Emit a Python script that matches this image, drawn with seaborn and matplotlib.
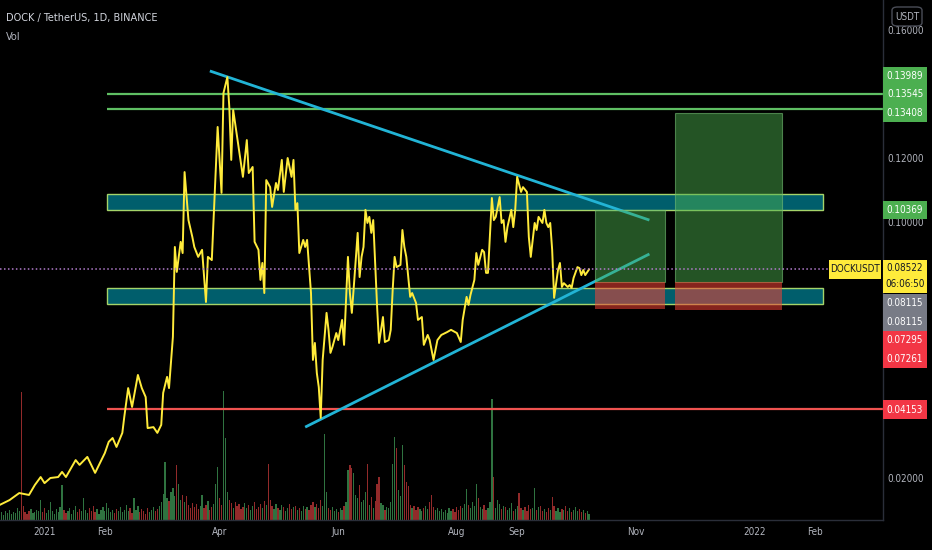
import numpy as np
import pandas as pd
import matplotlib
matplotlib.use("Agg")
import matplotlib.pyplot as plt
import matplotlib.dates as mdates
import matplotlib.font_manager as fm
from matplotlib.patches import Rectangle, FancyBboxPatch
import seaborn as sns

# ---------------- data ----------------
base_date = "2021-01-01"
# days after 2021-01-01 and the daily close at that day
price_day = [-23, -18, -13, -8, -5, -2, 0, 3, 7, 9, 11, 16, 18, 22, 26, 28, 31, 33, 35, 37,
             40, 41, 43, 45, 48, 50, 52, 53, 56, 58, 60, 61, 63, 64, 66, 67, 68, 70, 71, 72,
             74, 76, 77, 79, 81, 83, 84, 86, 89, 91, 92, 94, 95, 96, 97, 99, 102, 104, 105, 107,
             108, 110, 111, 112, 113, 114, 116, 117, 119, 120, 122, 123, 125, 127, 128, 129, 130, 131, 133, 134,
             135, 136, 137, 138, 139, 140, 141, 142, 143, 145, 146, 147, 148, 150, 151, 153, 154, 156, 157, 158,
             159, 161, 162, 163, 164, 165, 166, 167, 168, 169, 171, 172, 174, 175, 177, 178, 179, 180, 181, 183,
             184, 185, 186, 188, 189, 191, 192, 194, 195, 197, 198, 200, 202, 204, 207, 209, 212, 214, 215, 217,
             218, 219, 221, 222, 223, 225, 226, 227, 228, 230, 231, 232, 234, 235, 236, 237, 238, 240, 241, 242,
             243, 245, 246, 248, 249, 250, 251, 252, 253, 254, 256, 257, 258, 259, 260, 261, 262, 264, 265, 266,
             267, 269, 270, 271, 272, 274, 275, 276, 277, 278, 280]
price_close = [0.0116, 0.0131, 0.0153, 0.0147, 0.0178, 0.0203, 0.0184, 0.0200, 0.0203, 0.0219,
               0.0203, 0.0256, 0.0241, 0.0266, 0.0216, 0.0241, 0.0278, 0.0313, 0.0325, 0.0297,
               0.0341, 0.0391, 0.0481, 0.0422, 0.0522, 0.0481, 0.0453, 0.0356, 0.0359, 0.0341,
               0.0366, 0.0466, 0.0516, 0.0481, 0.0641, 0.0922, 0.0844, 0.0938, 0.0903, 0.1156,
               0.1006, 0.0953, 0.0922, 0.0891, 0.0913, 0.0750, 0.0891, 0.0881, 0.1297, 0.1091,
               0.1403, 0.1453, 0.1359, 0.1194, 0.1350, 0.1266, 0.1141, 0.1256, 0.1153, 0.1172,
               0.0938, 0.0913, 0.0819, 0.0872, 0.0778, 0.1131, 0.1109, 0.1047, 0.1122, 0.1100,
               0.1194, 0.1094, 0.1200, 0.1141, 0.1194, 0.1038, 0.1059, 0.0903, 0.0944, 0.0922,
               0.0944, 0.0859, 0.0778, 0.0569, 0.0622, 0.0528, 0.0484, 0.0388, 0.0569, 0.0716,
               0.0663, 0.0591, 0.0609, 0.0653, 0.0631, 0.0694, 0.0616, 0.0891, 0.0778, 0.0716,
               0.0797, 0.0966, 0.0828, 0.0891, 0.0922, 0.1038, 0.0997, 0.1016, 0.0966, 0.1006,
               0.0734, 0.0622, 0.0703, 0.0625, 0.0631, 0.0663, 0.0788, 0.0891, 0.0859, 0.0866,
               0.0975, 0.0922, 0.0891, 0.0766, 0.0778, 0.0747, 0.0694, 0.0703, 0.0616, 0.0647,
               0.0631, 0.0569, 0.0631, 0.0647, 0.0656, 0.0663, 0.0653, 0.0625, 0.0694, 0.0766,
               0.0741, 0.0772, 0.0819, 0.0903, 0.0866, 0.0913, 0.0906, 0.0841, 0.0841, 0.1075,
               0.1006, 0.1016, 0.1078, 0.0997, 0.1006, 0.0938, 0.0984, 0.1038, 0.0984, 0.1038,
               0.1141, 0.1094, 0.1109, 0.1094, 0.0953, 0.0891, 0.0944, 0.0997, 0.0975, 0.1016,
               0.0997, 0.1038, 0.0997, 0.0984, 0.0997, 0.0913, 0.0763, 0.0850, 0.0872, 0.0797,
               0.0809, 0.0797, 0.0803, 0.0794, 0.0825, 0.0859, 0.0856, 0.0834, 0.0850, 0.0834,
               0.08522]

# daily volume (relative units), starting 2020-12-09
vol_start = "2020-12-09"
vol_values = [6, 8, 5, 9, 7, 10, 6, 8, 7, 12, 9, 129, 14, 8, 6, 9, 11, 7, 8, 10,
              9, 20, 8, 12, 7, 10, 18, 9, 6, 11, 8, 13, 35, 10, 7, 9, 12, 6, 10, 14,
              8, 11, 9, 22, 10, 7, 12, 9, 14, 8, 11, 6, 10, 13, 9, 17, 12, 8, 10, 7,
              11, 9, 13, 8, 10, 15, 9, 12, 7, 22, 10, 14, 8, 11, 9, 6, 12, 8, 10, 13,
              9, 11, 14, 18, 26, 58, 22, 19, 28, 32, 24, 55, 36, 20, 25, 18, 24, 15, 12, 17,
              13, 16, 11, 14, 25, 12, 15, 19, 10, 13, 16, 36, 53, 22, 15, 130, 83, 28, 20, 17,
              12, 18, 14, 16, 11, 13, 17, 12, 15, 10, 14, 18, 11, 13, 16, 12, 19, 15, 56, 20,
              14, 11, 16, 12, 10, 15, 13, 9, 12, 16, 11, 13, 14, 10, 12, 9, 14, 11, 13, 10,
              15, 18, 13, 16, 12, 20, 14, 87, 28, 12, 10, 13, 9, 11, 8, 12, 10, 14, 18, 50,
              55, 52, 47, 25, 22, 35, 18, 20, 28, 56, 15, 23, 12, 19, 36, 43, 17, 15, 10, 13,
              12, 18, 56, 84, 73, 30, 24, 76, 55, 38, 34, 15, 12, 14, 10, 13, 11, 9, 12, 14,
              11, 18, 25, 13, 10, 12, 9, 11, 8, 10, 7, 12, 9, 11, 8, 13, 10, 14, 12, 16,
              31, 15, 12, 18, 14, 36, 22, 13, 11, 15, 10, 12, 18, 122, 43, 12, 20, 16, 11, 14,
              13, 10, 12, 17, 9, 11, 14, 27, 12, 10, 13, 9, 15, 11, 12, 32, 10, 13, 14, 9,
              11, 8, 12, 10, 23, 14, 9, 12, 8, 11, 10, 14, 9, 12, 8, 10, 13, 9, 11, 8,
              10, 7, 9, 6]

resistance_lines = [0.13989, 0.13545]
support_line = 0.04153
upper_band = [0.10369, 0.10875]
lower_band = [0.07438, 0.07938]
zone_start = "2021-02-02"
band_end = "2022-02-05"
trend_upper_dates = ["2021-03-27", "2021-11-08"]
trend_upper_vals = [0.1472, 0.1006]
trend_lower_dates = ["2021-05-15", "2021-11-08"]
trend_lower_vals = [0.0359, 0.0900]
last_price = 0.08522
entry_price = 0.08115
pos1_dates = ["2021-10-11", "2021-11-16"]
pos1_target, pos1_stop = 0.10369, 0.07295
pos2_dates = ["2021-11-21", "2022-01-15"]
pos2_target, pos2_stop = 0.13408, 0.07261

tick_dates = ["2021-01-01", "2021-02-01", "2021-04-01", "2021-06-01", "2021-08-01",
              "2021-09-01", "2021-11-01", "2022-01-01", "2022-02-01"]
tick_labels = ["2021", "Feb", "Apr", "Jun", "Aug", "Sep", "Nov", "2022", "Feb"]
price_ticks = [0.02, 0.10, 0.12, 0.16]

# ---------------- styling ----------------
sns.set_theme(style="dark")
plt.rcParams["font.family"] = ["Liberation Sans", "DejaVu Sans"]


def pick_font():
    prefs = ["LiberationSansNarrow-Regular", "DejaVuSansCondensed.ttf", "RobotoCondensed-Regular",
             "OpenSans_Condensed-Regular", "OpenSansCondensed-Regular", "Roboto_Condensed-Regular"]
    files = [f.fname for f in fm.fontManager.ttflist]
    for p in prefs:
        for fn in files:
            if p in fn:
                return fm.FontProperties(fname=fn)
    return fm.FontProperties(family=["Liberation Sans", "DejaVu Sans"])


FP = pick_font()

BG = "#000000"
TXT = "#b2b5be"
YELLOW = "#ffeb3b"
GREEN_LBL = "#4caf50"
RED_LBL = "#f23645"
GRAY_LBL = "#787b86"

W, H = 932, 550
fig = plt.figure(figsize=(W / 100, H / 100), dpi=100, facecolor=BG)
renderer = fig.canvas.get_renderer()


def size_for(text, target_px):
    t = fig.text(0, 0, text, fontproperties=FP, fontsize=10)
    w = t.get_window_extent(renderer).width
    t.remove()
    return 10 * target_px / w


FS = min(size_for("0.12000", 37), 10)
FS_HEAD = min(size_for("DOCK / TetherUS, 1D, BINANCE", 152), 11)

rect = [0, 30 / H, 883 / W, 520 / H]
ax_vol = fig.add_axes(rect, zorder=1)
ax = fig.add_axes(rect, zorder=2, sharex=ax_vol)
ax.patch.set_visible(False)
ax_vol.set_facecolor(BG)

base = pd.Timestamp(base_date)
pdates = base + pd.to_timedelta(price_day, unit="D")
vdates = pd.date_range(vol_start, periods=len(vol_values), freq="D")

# volume bars coloured by day-over-day direction of the close line
pnum = mdates.date2num(pdates.to_pydatetime())
vnum = mdates.date2num(vdates.to_pydatetime())
cur = np.interp(vnum, pnum, price_close)
prev = np.interp(vnum - 1, pnum, price_close)
vcolors = np.where(cur >= prev, "#2f7340", "#922a2a")
ax_vol.bar(vdates, vol_values, width=0.65, color=vcolors, linewidth=0)
ax_vol.set_ylim(0, max(vol_values) * 520 / 129)
ax_vol.set_yticks([])
ax_vol.tick_params(axis="x", bottom=False, labelbottom=False)
for s in ax_vol.spines.values():
    s.set_visible(False)

# price line
df = pd.DataFrame({"date": pdates, "close": price_close})
sns.lineplot(data=df, x="date", y="close", ax=ax, color=YELLOW, linewidth=1.4, zorder=4)

xl = base + pd.Timedelta(days=-22.9)
xr = base + pd.Timedelta(days=431.1)
ax.set_xlim(xl, xr)
ax.set_ylim(0.006875, 0.169375)
xr_num = mdates.date2num(xr)
zs = mdates.date2num(pd.Timestamp(zone_start))
be = mdates.date2num(pd.Timestamp(band_end))

# bands
for lo, hi in (upper_band, lower_band):
    ax.add_patch(Rectangle((zs, lo), be - zs, hi - lo, facecolor="#005e6c",
                           edgecolor="#a5d46a", linewidth=1, zorder=1))
# horizontal levels
ax.hlines(resistance_lines, zs, xr_num, colors="#5fbf63", linewidth=1.6, zorder=2)
ax.hlines([support_line], zs, xr_num, colors="#ef5350", linewidth=1.6, zorder=2)

# trend lines
ax.plot(pd.to_datetime(trend_upper_dates), trend_upper_vals, color="#22b4d6", lw=2, zorder=2.5,
        solid_capstyle="butt")
ax.plot(pd.to_datetime(trend_lower_dates), trend_lower_vals, color="#22b4d6", lw=2, zorder=2.5,
        solid_capstyle="butt")

# long-position boxes
for dts, tgt, stp in ((pos1_dates, pos1_target, pos1_stop), (pos2_dates, pos2_target, pos2_stop)):
    s = mdates.date2num(pd.Timestamp(dts[0]))
    e = mdates.date2num(pd.Timestamp(dts[1]))
    ax.add_patch(Rectangle((s, entry_price), e - s, tgt - entry_price,
                           facecolor=(0.30, 0.69, 0.31, 0.48), edgecolor=(0.45, 0.75, 0.45, 0.6),
                           linewidth=0.8, zorder=3))
    ax.add_patch(Rectangle((s, stp), e - s, entry_price - stp,
                           facecolor=(0.96, 0.26, 0.21, 0.55), edgecolor="none", zorder=3))

# current price dotted line
ax.axhline(last_price, xmin=0, xmax=830 / 883, color="#b27ccc", lw=1.1,
           linestyle=(0, (1, 1.6)), zorder=5)

# axes / ticks
ax.yaxis.tick_right()
ax.set_yticks(price_ticks)
ax.set_yticklabels([f"{v:.5f}" for v in price_ticks])
ax.set_xticks(pd.to_datetime(tick_dates))
ax.set_xticklabels(tick_labels)
ax.tick_params(axis="y", length=0, pad=3, labelcolor=TXT)
ax.tick_params(axis="x", length=0, pad=5, labelcolor=TXT)
for lab in ax.get_xticklabels() + ax.get_yticklabels():
    lab.set_fontproperties(FP)
    lab.set_fontsize(FS)
ax.set_xlabel("")
ax.set_ylabel("")
ax.grid(False)
ax_vol.grid(False)
for k, s in ax.spines.items():
    if k in ("right", "bottom"):
        s.set_color("#2a2e39")
        s.set_linewidth(1)
    else:
        s.set_visible(False)


# ---------------- price-scale labels ----------------
def val_px(v):
    d = ax.transData.transform((mdates.date2num(xl), v))
    return H - d[1]


def scale_label(yc, text, fc, tc, x0=883, w=44, h=18.6):
    fig.add_artist(Rectangle((x0 / W, (H - yc - h / 2) / H), w / W, h / H,
                             transform=fig.transFigure, facecolor=fc, edgecolor="none", zorder=5))
    fig.text((x0 + w / 2) / W, (H - yc) / H, text, color=tc, fontproperties=FP, fontsize=FS,
             ha="center", va="center", zorder=6)


scale_label(val_px(resistance_lines[0]) - 18.4, f"{resistance_lines[0]:.5f}", GREEN_LBL, "white")
scale_label(val_px(resistance_lines[1]) - 14.1, f"{resistance_lines[1]:.5f}", GREEN_LBL, "white")
scale_label(val_px(pos2_target), f"{pos2_target:.5f}", GREEN_LBL, "white")
scale_label(val_px(pos1_target), f"{pos1_target:.5f}", GREEN_LBL, "white")

# current price block
yc = val_px(last_price)
fig.add_artist(Rectangle((883 / W, (H - yc - 24) / H), 44 / W, 33 / H,
                         transform=fig.transFigure, facecolor=YELLOW, edgecolor="none", zorder=5))
fig.text(905 / W, (H - yc + 1) / H, f"{last_price:.5f}", color="#131722", fontproperties=FP,
         fontsize=FS, ha="center", va="center", zorder=6)
fig.text(905 / W, (H - yc - 15) / H, "06:06:50", color="#131722", fontproperties=FP,
         fontsize=FS, ha="center", va="center", zorder=6)
scale_label(yc, "DOCKUSDT", YELLOW, "#131722", x0=829, w=52, h=19)

scale_label(val_px(entry_price) + 20.7, f"{entry_price:.5f}", GRAY_LBL, "white")
scale_label(val_px(entry_price) + 39.3, f"{entry_price:.5f}", GRAY_LBL, "white")
scale_label(val_px(pos1_stop) + 31.5, f"{pos1_stop:.5f}", RED_LBL, "white")
scale_label(val_px(pos2_stop) + 48.9, f"{pos2_stop:.5f}", RED_LBL, "white")
scale_label(val_px(support_line) + 0.5, f"{support_line:.5f}", RED_LBL, "white")

# currency box
fig.add_artist(FancyBboxPatch((892 / W, (H - 26) / H), 30 / W, 19 / H,
                              boxstyle="round,pad=0,rounding_size=0.006",
                              transform=fig.transFigure, facecolor=BG, edgecolor="#4a4d57",
                              linewidth=1, zorder=5))
fig.text(907 / W, (H - 16.5) / H, "USDT", color=TXT, fontproperties=FP, fontsize=FS,
         ha="center", va="center", zorder=6)

# header
fig.text(6 / W, (H - 18) / H, "DOCK / TetherUS, 1D, BINANCE", color="#d1d4dc",
         fontproperties=FP, fontsize=FS_HEAD, ha="left", va="center")
fig.text(6 / W, (H - 37) / H, "Vol", color=TXT, fontproperties=FP, fontsize=FS_HEAD,
         ha="left", va="center")

fig.savefig("out.png", dpi=100, facecolor=BG)
